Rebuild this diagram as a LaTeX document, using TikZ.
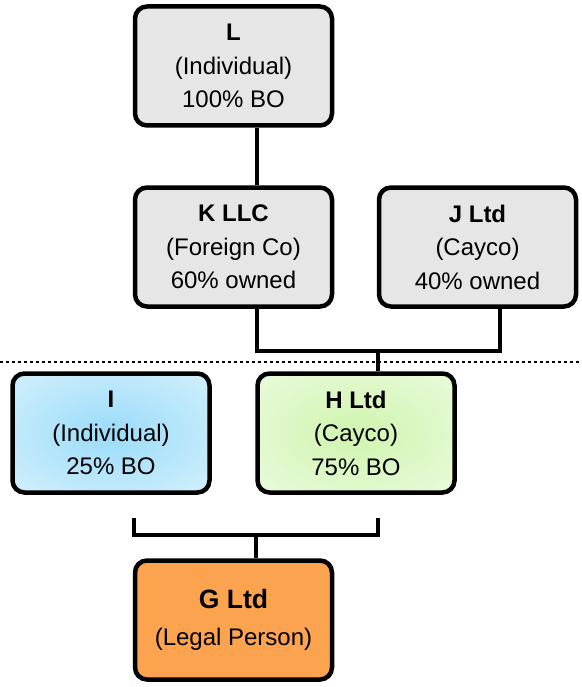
\documentclass[tikz,border=0pt]{standalone}
\usepackage{fontspec}
\setmainfont{Liberation Sans}
\usetikzlibrary{calc}
\definecolor{boxgray}{HTML}{E6E6E6}
\definecolor{blueIn}{HTML}{9ADBFA}
\definecolor{blueOut}{HTML}{DCF4FC}
\definecolor{greenIn}{HTML}{CFF4AE}
\definecolor{greenOut}{HTML}{EEFCE4}
\definecolor{orangeFill}{HTML}{FBA34E}
% soft radial fills reaching the box edges
\pgfdeclareradialshading{softblue}{\pgfpoint{0bp}{0bp}}%
  {color(0bp)=(blueIn); color(42bp)=(blueOut); color(80bp)=(blueOut)}
\pgfdeclareradialshading{softgreen}{\pgfpoint{0bp}{0bp}}%
  {color(0bp)=(greenIn); color(42bp)=(greenOut); color(80bp)=(greenOut)}
\begin{document}
\begin{tikzpicture}[x=1pt,y=-1pt,
  entity/.style={draw=black, line width=4.5pt, rounded corners=12pt,
    minimum width=197pt, minimum height=119pt, inner sep=0pt,
    align=center, font=\fontsize{24}{33.5}\selectfont},
  grayent/.style={entity, fill=boxgray},
  conn/.style={draw=black, line width=4.2pt, line join=miter}]
\useasboundingbox (0,0) rectangle (581,687);

% ownership chain above the line
\node[grayent] (L) at (233.5,66) {\textbf{L}\\(Individual)\\100\% BO};
\node[grayent] (K) at (233.5,247) {\textbf{K LLC}\\(Foreign Co)\\60\% owned};
\node[grayent] (J) at (477.5,247) {\textbf{J Ltd}\\(Cayco)\\40\% owned};

% beneficial owners below the line
\node[entity, shade, shading=softblue] (I) at (111,433)
  {\textbf{I}\\(Individual)\\25\% BO};
\node[entity, shade, shading=softgreen] (H) at (356,433)
  {\textbf{H Ltd}\\(Cayco)\\75\% BO};

% the legal person
\node[entity, fill=orangeFill] (G) at (233.5,620)
  {{\fontsize{26.5}{30}\selectfont\bfseries G Ltd}\\[3pt](Legal Person)};

% dotted separator
\draw[line width=2.5pt, dash pattern=on 2.5pt off 3.5pt] (0,362) -- (581,362);

% guide coordinates for the connectors
\coordinate (xa) at (257,0);
\coordinate (xb) at (500,0);
\coordinate (xc) at (378,0);
\coordinate (ya) at (0,351);
\coordinate (bl) at (134,518);
\coordinate (br) at (378,518);
\coordinate (yb) at (0,535);
\coordinate (xg) at (256,0);

\draw[conn] (L.south -| xa) -- (K.north -| xa);
\draw[conn] (K.south -| xa) -- (xa |- ya) -- (xb |- ya) -- (J.south -| xb);
\draw[conn] (xc |- ya) -- (H.north -| xc);

\draw[conn] (bl) -- (bl |- yb) -- (br |- yb) -- (br);
\draw[conn] (xg |- yb) -- (G.north -| xg);
\end{tikzpicture}
\end{document}
